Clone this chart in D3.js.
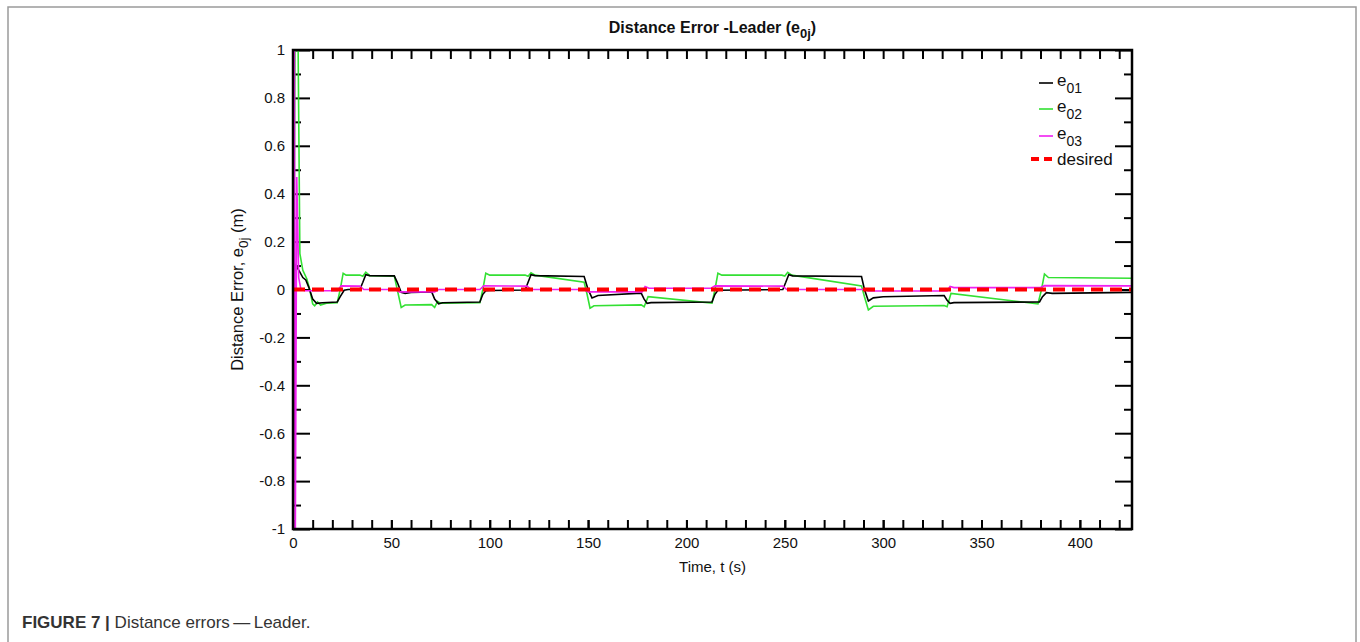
<!DOCTYPE html>
<html>
<head>
<meta charset="utf-8">
<script src="https://cdn.jsdelivr.net/npm/d3@7"></script>
<style>
body { margin: 0; background: #fff; }
svg { font-family: "Liberation Sans", Arial, sans-serif; }
.tick line { stroke: #000; stroke-width: 2; }
.tick text { font-size: 15px; fill: #111; }
</style>
</head>
<body>
<div id="chart1"></div>
<script>
// [time (s), error (m)]
var e01 = [[0,-1.3],[0.4,-0.68],[1.4,0.1],[3,0.08],[5,0.05],[6.5,0.04],[8,0.01],[10,-0.04],[12,-0.058],[15,-0.055],[22.5,-0.052],[24,-0.03],[26,-0.003],[28,0],[34,0],[35.5,0.03],[37,0.062],[39,0.058],[51.5,0.057],[53,0.03],[55,-0.012],[57,-0.016],[60,-0.012],[70.5,-0.01],[72,-0.04],[74,-0.06],[76,-0.055],[95,-0.052],[96.5,-0.02],[98,-0.005],[100,-0.004],[118,-0.002],[119.5,0.03],[121,0.062],[123,0.058],[148,0.054],[150,0],[152,-0.035],[155,-0.025],[177,-0.015],[178.5,-0.04],[180,-0.058],[182,-0.055],[213,-0.052],[214.5,-0.02],[216,-0.003],[249,0],[250.5,0.03],[252,0.062],[254,0.057],[289,0.054],[290.5,0],[292.5,-0.048],[295,-0.035],[300,-0.03],[331,-0.025],[332.5,-0.045],[334,-0.058],[336,-0.055],[379.5,-0.052],[381,-0.03],[383,-0.013],[386,-0.016],[426.5,-0.012]];

var e02 = [[0,-0.7],[1.2,1.3],[2.3,1.3],[3.5,0.15],[5,0.08],[7,0.045],[8.5,0],[10,-0.06],[11,-0.068],[12.5,-0.052],[14,-0.065],[17,-0.057],[22.5,-0.055],[24,0],[25.5,0.068],[27,0.06],[34,0.06],[35.5,0.055],[37,0.072],[39,0.058],[51.5,0.056],[53,0],[55,-0.075],[57,-0.065],[70.5,-0.063],[72,-0.075],[73.5,-0.05],[75,-0.057],[95,-0.055],[96.5,0],[98,0.068],[100,0.06],[118,0.06],[119.5,0.055],[121,0.07],[123,0.06],[148,0.03],[149.5,-0.02],[151,-0.078],[153,-0.068],[177,-0.064],[178.5,-0.072],[180.5,-0.03],[213,-0.057],[214.5,0],[216,0.068],[218,0.06],[248.5,0.06],[250,0.056],[251.5,0.072],[253.5,0.06],[289,0.015],[290.5,-0.03],[292.5,-0.085],[295,-0.07],[331,-0.067],[332.5,-0.072],[334.5,-0.016],[378.7,-0.06],[380.5,0],[382,0.065],[384,0.05],[426.5,0.047]];

var e03 = [[0,1.5],[0.7,1.2],[1.1,-1.2],[1.9,0.47],[2.9,0.05],[4,0],[6,-0.005],[22.5,-0.005],[24.5,0.015],[34,0.014],[36,0],[52,0],[54,-0.01],[72,-0.01],[74,0],[95,0],[97,0.015],[119,0.014],[121,0],[148,0],[150,-0.01],[177.5,-0.01],[179,0.012],[181,0.005],[212.5,0.005],[214.5,0.015],[249,0.014],[251,0],[290.5,0],[292.5,-0.006],[332.5,-0.006],[334,0.013],[336,0.008],[380,0.008],[382,0.016],[426.5,0.015]];

var desired = [[0,0],[426.5,0]];

var seriesNames = ["01", "02", "03", "desired"];
var seriesColors = ["#000000", "#33e033", "#f020f0", "#ff0000"];

var xMajor = d3.range(0, 401, 50);
var xMinor = d3.range(10, 421, 10);
var yMajor = d3.range(-1, 1.001, 0.2).map(function(d) { return +d.toFixed(1); });
var yMinor = d3.range(-0.9, 0.95, 0.2).map(function(d) { return +d.toFixed(1); });

var plotLeft = 293, plotRight = 1132, plotTop = 50, plotBottom = 529;

var x = d3.scaleLinear().domain([0, 426.5]).range([plotLeft, plotRight]);
var y = d3.scaleLinear().domain([-1, 1]).range([plotBottom, plotTop]);

var svg = d3.select("#chart1").append("svg")
    .attr("width", 1360)
    .attr("height", 642);

// outer frame of the figure
svg.append("rect")
    .attr("x", 8).attr("y", 7)
    .attr("width", 1348).attr("height", 660)
    .attr("fill", "none")
    .attr("stroke", "#9a9a9a")
    .attr("stroke-width", 1.5);

svg.append("clipPath").attr("id", "clip")
  .append("rect")
    .attr("x", plotLeft).attr("y", plotTop)
    .attr("width", plotRight - plotLeft).attr("height", plotBottom - plotTop);

// x ticks
svg.append("g")
    .attr("transform", "translate(0," + plotBottom + ")")
    .call(d3.axisBottom(x).tickValues(xMinor).tickSize(-9).tickFormat(""))
    .call(function(g) { g.select(".domain").remove(); });
svg.append("g")
    .attr("transform", "translate(0," + plotBottom + ")")
    .call(d3.axisBottom(x).tickValues(xMajor).tickSize(-9).tickPadding(8).tickFormat(d3.format("d")))
    .call(function(g) { g.select(".domain").remove(); });
svg.append("g")
    .attr("transform", "translate(0," + plotTop + ")")
    .call(d3.axisTop(x).tickValues(xMinor).tickSize(-9).tickFormat(""))
    .call(function(g) { g.select(".domain").remove(); });

// y ticks (plain hyphen for negatives, like the original)
svg.append("g")
    .attr("transform", "translate(" + plotLeft + ",0)")
    .call(d3.axisLeft(y).tickValues(yMajor).tickSize(-17).tickPadding(8)
      .tickFormat(function(d) { return String(d); }))
    .call(function(g) { g.select(".domain").remove(); });
svg.append("g")
    .attr("transform", "translate(" + plotLeft + ",0)")
    .call(d3.axisLeft(y).tickValues(yMinor).tickSize(-8).tickFormat(""))
    .call(function(g) { g.select(".domain").remove(); });
svg.append("g")
    .attr("transform", "translate(" + plotRight + ",0)")
    .call(d3.axisRight(y).tickValues(yMajor).tickSize(-17).tickFormat(""))
    .call(function(g) { g.select(".domain").remove(); });
svg.append("g")
    .attr("transform", "translate(" + plotRight + ",0)")
    .call(d3.axisRight(y).tickValues(yMinor).tickSize(-8).tickFormat(""))
    .call(function(g) { g.select(".domain").remove(); });

var line = d3.line()
    .x(function(d) { return x(d[0]); })
    .y(function(d) { return y(d[1]); });

var plot = svg.append("g").attr("clip-path", "url(#clip)");

plot.append("path").datum(e02)
    .attr("d", line).attr("fill", "none")
    .attr("stroke", seriesColors[1]).attr("stroke-width", 1.6);
plot.append("path").datum(e01)
    .attr("d", line).attr("fill", "none")
    .attr("stroke", seriesColors[0]).attr("stroke-width", 1.6);
plot.append("path").datum(e03)
    .attr("d", line).attr("fill", "none")
    .attr("stroke", seriesColors[2]).attr("stroke-width", 1.6);
plot.append("path").datum(desired)
    .attr("d", line).attr("fill", "none")
    .attr("stroke", seriesColors[3]).attr("stroke-width", 4)
    .attr("stroke-dasharray", "12,7");

// plot frame
svg.append("rect")
    .attr("x", plotLeft).attr("y", plotTop)
    .attr("width", plotRight - plotLeft).attr("height", plotBottom - plotTop)
    .attr("fill", "none")
    .attr("stroke", "#000")
    .attr("stroke-width", 2.5);

// title
var title = svg.append("text")
    .attr("x", (plotLeft + plotRight) / 2)
    .attr("y", 33)
    .attr("text-anchor", "middle")
    .attr("font-size", 16)
    .attr("font-weight", "bold")
    .attr("fill", "#111");
title.append("tspan").text("Distance Error -Leader (e");
title.append("tspan").attr("font-size", 13).attr("dy", 5).text("0j");
title.append("tspan").attr("dy", -5).text(")");

// axis labels
svg.append("text")
    .attr("x", (plotLeft + plotRight) / 2)
    .attr("y", 572)
    .attr("text-anchor", "middle")
    .attr("font-size", 15)
    .attr("fill", "#111")
    .text("Time, t (s)");

var ylab = svg.append("text")
    .attr("transform", "translate(243," + y(0) + ") rotate(-90)")
    .attr("text-anchor", "middle")
    .attr("font-size", 16.5)
    .attr("fill", "#111");
ylab.append("tspan").text("Distance Error, e");
ylab.append("tspan").attr("font-size", 13.5).attr("dy", 5).text("0j");
ylab.append("tspan").attr("dy", -5).text(" (m)");

// legend
var legendY = [83, 109, 136, 159];
var legend = svg.append("g");
seriesNames.forEach(function(name, i) {
  var isDesired = name === "desired";
  legend.append("line")
      .attr("x1", isDesired ? 1031 : 1039)
      .attr("x2", 1053)
      .attr("y1", legendY[i]).attr("y2", legendY[i])
      .attr("stroke", seriesColors[i])
      .attr("stroke-width", isDesired ? 4 : 1.6)
      .attr("stroke-dasharray", isDesired ? "8,5" : null);
  var t = legend.append("text")
      .attr("x", 1057)
      .attr("y", legendY[i] + (isDesired ? 6 : 3))
      .attr("font-size", 17)
      .attr("fill", "#111");
  if (isDesired) {
    t.text("desired");
  } else {
    t.append("tspan").text("e");
    t.append("tspan").attr("font-size", 14).attr("dy", 7).text(name);
  }
});

// caption
var cap = svg.append("text")
    .attr("x", 22)
    .attr("y", 628)
    .attr("font-size", 17)
    .attr("fill", "#333");
cap.append("tspan").attr("font-weight", "bold").text("FIGURE 7 | ");
cap.append("tspan").text("Distance errors\u2009\u2014\u2009Leader.");
</script>
</body>
</html>
